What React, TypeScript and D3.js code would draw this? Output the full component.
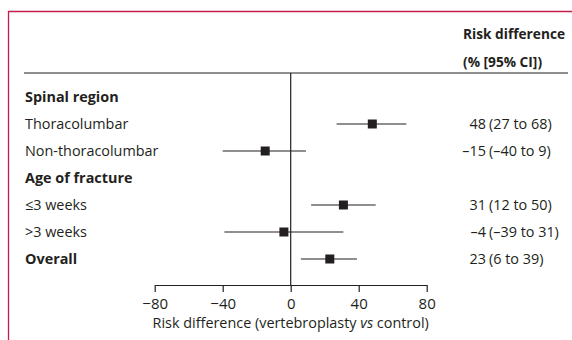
import React, { useRef, useEffect } from 'react';
import * as d3 from 'd3';

// rows of the forest plot, top to bottom
const labels = ['Spinal region', 'Thoracolumbar', 'Non-thoracolumbar', 'Age of fracture', '≤3 weeks', '>3 weeks', 'Overall'];
const boldRow = [true, false, false, true, false, false, true];
const estimates: (number | null)[] = [null, 48, -15, null, 31, -4, 23];
const lower: (number | null)[] = [null, 27, -40, null, 12, -39, 6];
const upper: (number | null)[] = [null, 68, 9, null, 50, 31, 39];
const estText = ['', '48', '–15', '', '31', '–4', '23'];
const ciText = ['', '(27 to 68)', '(–40 to 9)', '', '(12 to 50)', '(–39 to 31)', '(6 to 39)'];
const ticks = [-80, -40, 0, 40, 80];

const W = 572;
const H = 340;
const ink = '#231f20';
const font = '"Open Sans", sans-serif';
const fs = 14.4;

const App = () => {
  const axisRef = useRef<SVGGElement>(null);

  const x = d3.scaleLinear().domain([-80, 80]).range([154.7, 426.7]);
  const y = d3.scaleLinear().domain([0, 6]).range([97, 259]);
  const axisY = 285;
  const headerY = 73;

  useEffect(() => {
    if (!axisRef.current) return;
    const g = d3.select(axisRef.current);
    g.selectAll('*').remove();
    g.call(
      d3.axisBottom(x)
        .tickValues(ticks)
        .tickSize(7)
        .tickSizeOuter(0)
        .tickPadding(6)
        .tickFormat(d => d3.format('')(d as number).replace('-', '−'))
    );
    g.select('.domain').attr('stroke', ink).attr('stroke-width', 1.2);
    g.selectAll('.tick line').attr('stroke', ink).attr('stroke-width', 1.2);
    g.selectAll('.tick text')
      .attr('fill', ink)
      .style('font-family', font)
      .style('font-size', '15px');
  }, []);

  return (
    <svg width={W} height={H} style={{ position: 'absolute', left: 0, top: 0 }} fontFamily={font}>
      <rect width={W} height={H} fill="#fff" />
      {/* frame */}
      <path d={`M8.5,${H}V11.5H${W}`} fill="none" stroke="#c21e4b" strokeWidth={1.3} />

      {/* header */}
      <text x={463} y={39} fontSize={13.7} fontWeight="bold" fill={ink}>Risk difference</text>
      <text x={463} y={66.5} fontSize={13.7} fontWeight="bold" fill={ink}>(% [95% CI])</text>
      <line x1={24} x2={568} y1={headerY} y2={headerY} stroke={ink} strokeWidth={1.2} />

      {/* zero line */}
      <line x1={x(0)} x2={x(0)} y1={headerY} y2={axisY} stroke={ink} strokeWidth={1.2} />

      {labels.map((lab, i) => (
        <g key={lab}>
          <text x={25} y={y(i) + 4.8} fontSize={fs} fontWeight={boldRow[i] ? 'bold' : 'normal'} fill={ink}>
            {lab}
          </text>
          {estimates[i] !== null && (
            <>
              <line x1={x(lower[i] as number)} x2={x(upper[i] as number)} y1={y(i)} y2={y(i)} stroke={ink} strokeWidth={1.1} />
              <rect x={x(estimates[i] as number) - 4.5} y={y(i) - 4.5} width={9} height={9} fill={ink} />
              <text x={486} y={y(i) + 4.8} fontSize={fs} textAnchor="end" fill={ink}>{estText[i]}</text>
              <text x={489} y={y(i) + 4.8} fontSize={fs} fill={ink}>{ciText[i]}</text>
            </>
          )}
        </g>
      ))}

      <g ref={axisRef} transform={`translate(0,${axisY})`} />

      <text x={x(0)} y={328} fontSize={fs} textAnchor="middle" fill={ink}>
        Risk difference (vertebroplasty <tspan fontStyle="italic">vs</tspan> control)
      </text>
    </svg>
  );
};

export default App;
